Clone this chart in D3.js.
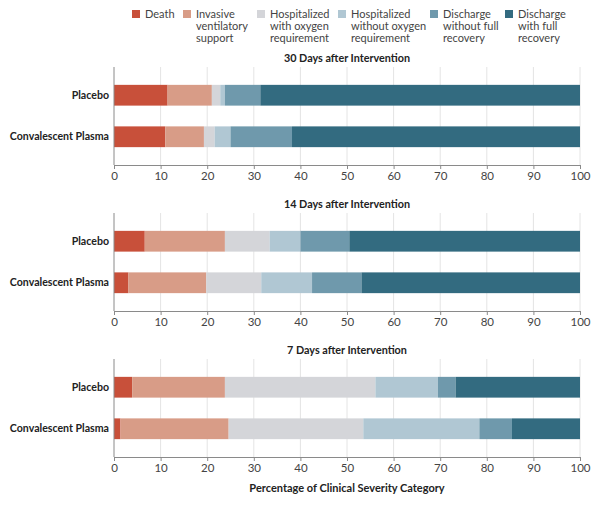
<!DOCTYPE html>
<html>
<head>
<meta charset="utf-8">
<script src="https://cdn.jsdelivr.net/npm/d3@7.9.0/dist/d3.min.js"></script>
<style>
  body { margin: 0; background: #fff; }
  svg { font-family: Lato, "Open Sans", sans-serif; }
</style>
</head>
<body>
<svg id="chart" width="600" height="505"></svg>
<script>
// severity categories, least to most favourable
const categories = [
  "Death",
  "Invasive ventilatory support",
  "Hospitalized with oxygen requirement",
  "Hospitalized without oxygen requirement",
  "Discharge without full recovery",
  "Discharge with full recovery",
];
const legendLines = [
  ["Death"],
  ["Invasive", "ventilatory", "support"],
  ["Hospitalized", "with oxygen", "requirement"],
  ["Hospitalized", "without oxygen", "requirement"],
  ["Discharge", "without full", "recovery"],
  ["Discharge", "with full", "recovery"],
];
const colorList = ["#c8503a", "#d89c87", "#d4d5d9", "#b0c7d3", "#6f99ac", "#336b80"];

const groups = ["Placebo", "Convalescent Plasma"];
const panelTitles = [
  "30 Days after Intervention",
  "14 Days after Intervention",
  "7 Days after Intervention",
];
const xTicks = [0, 10, 20, 30, 40, 50, 60, 70, 80, 90, 100];

// percentage in each category
const day30Placebo = [11.5, 9.5, 1.8, 1.0, 7.6, 68.6];
const day30Plasma = [11.0, 8.3, 2.3, 3.4, 13.2, 61.8];
const day14Placebo = [6.6, 17.2, 9.6, 6.6, 10.5, 49.5];
const day14Plasma = [3.1, 16.7, 11.8, 10.9, 10.6, 46.9];
const day7Placebo = [3.9, 19.9, 32.3, 13.4, 3.8, 26.7];
const day7Plasma = [1.4, 23.2, 28.9, 24.9, 7.0, 14.6];

const panelData = [
  [day30Placebo, day30Plasma],
  [day14Placebo, day14Plasma],
  [day7Placebo, day7Plasma],
];

const svg = d3.select("#chart");
const color = d3.scaleOrdinal().domain(categories).range(colorList);
const x = d3.scaleLinear().domain([0, 100]).range([114, 580]);

const panelTop = 67;
const panelStep = 146;
const panelHeight = 98;

// legend
const legendX = [132, 183, 257, 338, 430, 505];
const legend = svg.append("g").attr("class", "legend");
categories.forEach((c, i) => {
  const item = legend.append("g").attr("transform", `translate(${legendX[i]},0)`);
  item.append("rect")
    .attr("x", 0).attr("y", 10)
    .attr("width", 8).attr("height", 8)
    .attr("fill", color(c));
  item.append("text")
    .attr("x", 13).attr("y", 18)
    .attr("font-size", 11)
    .attr("fill", "#444")
    .selectAll("tspan")
    .data(legendLines[i])
    .join("tspan")
    .attr("x", 13)
    .attr("dy", (d, j) => (j === 0 ? 0 : 12))
    .text((d) => d);
});

const stack = d3.stack().keys(d3.range(categories.length));

panelTitles.forEach((title, p) => {
  const top = panelTop + p * panelStep;
  const bottom = top + panelHeight;
  const g = svg.append("g");

  const y = d3.scaleBand()
    .domain(groups)
    .range([top, bottom])
    .paddingInner(0.5)
    .paddingOuter(0.43);

  g.append("text")
    .attr("x", (x(0) + x(100)) / 2)
    .attr("y", top - 5)
    .attr("text-anchor", "middle")
    .attr("font-size", 10.8)
    .attr("font-weight", "bold")
    .attr("fill", "#222")
    .text(title);

  // grid
  g.selectAll("line.grid")
    .data(xTicks.slice(1))
    .join("line")
    .attr("class", "grid")
    .attr("x1", (d) => x(d)).attr("x2", (d) => x(d))
    .attr("y1", top).attr("y2", bottom)
    .attr("stroke", "#e4e4e4");

  const rows = groups.map((gname, i) => {
    const row = { group: gname };
    panelData[p][i].forEach((v, k) => (row[k] = v));
    return row;
  });
  const series = stack(rows);

  g.selectAll("g.series")
    .data(series)
    .join("g")
    .attr("class", "series")
    .attr("fill", (s) => color(categories[s.key]))
    .selectAll("rect")
    .data((s) => s)
    .join("rect")
    .attr("x", (d) => x(d[0]))
    .attr("width", (d) => x(d[1]) - x(d[0]))
    .attr("y", (d) => y(d.data.group))
    .attr("height", y.bandwidth());

  const xAxis = g.append("g")
    .attr("transform", `translate(0,${bottom})`)
    .call(d3.axisBottom(x).tickValues(xTicks).tickSize(4).tickPadding(3));
  xAxis.select(".domain").attr("stroke", "#8a8a8a");
  xAxis.selectAll(".tick line").attr("stroke", "#8a8a8a");
  xAxis.selectAll("text")
    .attr("font-size", 11.5)
    .attr("font-family", "Lato, sans-serif")
    .attr("fill", "#444");

  const yAxis = g.append("g")
    .attr("transform", `translate(${x(0)},0)`)
    .call(d3.axisLeft(y).tickSize(0).tickPadding(5));
  yAxis.select(".domain").attr("stroke", "#8a8a8a").attr("d", `M0,${top}V${bottom}`);
  yAxis.selectAll("text")
    .attr("font-size", 10.6)
    .attr("font-weight", "bold")
    .attr("font-family", "Lato, sans-serif")
    .attr("fill", "#222");
});

svg.append("text")
  .attr("x", (x(0) + x(100)) / 2)
  .attr("y", 492)
  .attr("text-anchor", "middle")
  .attr("font-size", 11)
  .attr("font-weight", "bold")
  .attr("fill", "#222")
  .text("Percentage of Clinical Severity Category");
</script>
</body>
</html>
